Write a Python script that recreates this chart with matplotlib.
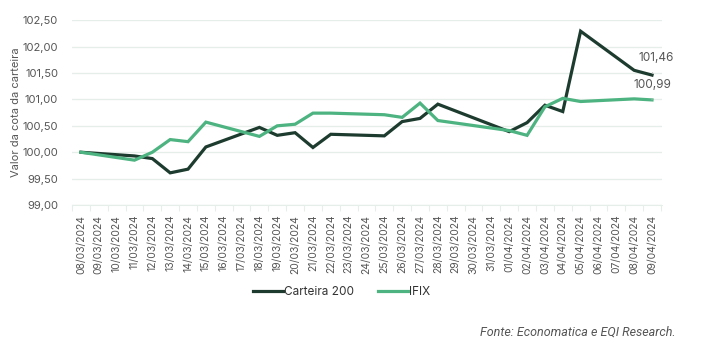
import matplotlib
matplotlib.use("Agg")
import matplotlib.pyplot as plt
import numpy as np

plt.rcParams['font.family'] = ['Inter', 'DejaVu Sans']

dates = ["08/03/2024", "09/03/2024", "10/03/2024", "11/03/2024", "12/03/2024", "13/03/2024",
         "14/03/2024", "15/03/2024", "16/03/2024", "17/03/2024", "18/03/2024", "19/03/2024",
         "20/03/2024", "21/03/2024", "22/03/2024", "23/03/2024", "24/03/2024", "25/03/2024",
         "26/03/2024", "27/03/2024", "28/03/2024", "29/03/2024", "30/03/2024", "31/03/2024",
         "01/04/2024", "02/04/2024", "03/04/2024", "04/04/2024", "05/04/2024", "06/04/2024",
         "07/04/2024", "08/04/2024", "09/04/2024"]

trade_days = ["08/03/2024", "11/03/2024", "12/03/2024", "13/03/2024", "14/03/2024", "15/03/2024",
              "18/03/2024", "19/03/2024", "20/03/2024", "21/03/2024", "22/03/2024", "25/03/2024",
              "26/03/2024", "27/03/2024", "28/03/2024", "01/04/2024", "02/04/2024", "03/04/2024",
              "04/04/2024", "05/04/2024", "08/04/2024", "09/04/2024"]

carteira_200 = [100.00, 99.93, 99.88, 99.61, 99.68, 100.10, 100.47, 100.32, 100.37, 100.09,
                100.34, 100.31, 100.58, 100.64, 100.91, 100.39, 100.56, 100.89, 100.77, 102.29,
                101.55, 101.46]
ifix = [100.00, 99.85, 100.00, 100.24, 100.20, 100.57, 100.30, 100.50, 100.53, 100.74,
        100.74, 100.71, 100.66, 100.93, 100.60, 100.41, 100.32, 100.86, 101.02, 100.96,
        101.01, 100.99]

yticks = [99.0, 99.5, 100.0, 100.5, 101.0, 101.5, 102.0, 102.5]

dark = "#1d3b2f"
light = "#4db380"
grey = "#555555"

fig = plt.figure(figsize=(7.21, 3.53), dpi=100)
ax = fig.add_axes([0.0999, 0.419, 0.818, 0.524])

xpos = [dates.index(d) for d in trade_days]
ax.plot(xpos, carteira_200, color=dark, lw=2.3, label="Carteira 200", solid_joinstyle="miter")
ax.plot(xpos, ifix, color=light, lw=2.3, label="IFIX", solid_joinstyle="miter")

ax.set_xlim(-0.45, len(dates) - 0.45)
ax.set_ylim(99.0, 102.5)
ax.set_yticks(yticks)
ax.set_yticklabels([f"{v:.2f}".replace(".", ",") for v in yticks], fontsize=8, color=grey)
ax.set_xticks(range(len(dates)))
ax.set_xticklabels(dates, rotation=90, fontsize=7.5, color=grey)
ax.set_xticks(np.arange(-0.5, len(dates)), minor=True)
ax.tick_params(axis="x", which="major", length=0, pad=7)
ax.tick_params(axis="x", which="minor", length=4, color="#e6eeea", width=0.8)
ax.tick_params(axis="y", length=0, pad=10)
ax.grid(axis="y", color="#e6eeea", lw=1)
for s in ["top", "right", "left"]:
    ax.spines[s].set_visible(False)
ax.spines["bottom"].set_color("#e6eeea")
ax.set_axisbelow(True)
ax.set_ylabel("Valor da cota da carteira", fontsize=8, color=grey, labelpad=1)

# end labels
xl = xpos[-1]
ax.annotate(f"{carteira_200[-1]:.2f}".replace(".", ","), xy=(xl, carteira_200[-1]),
            xytext=(xl + 0.25, carteira_200[-1] + 0.32), fontsize=8.5, color=grey, ha="center",
            va="center", arrowprops=dict(arrowstyle="-", color="#bbbbbb", lw=0.6, shrinkA=4, shrinkB=1))
ax.annotate(f"{ifix[-1]:.2f}".replace(".", ","), xy=(xl, ifix[-1]),
            xytext=(xl + 0.05, ifix[-1] + 0.29), fontsize=8.5, color=grey, ha="center",
            va="center", arrowprops=dict(arrowstyle="-", color="#bbbbbb", lw=0.6, shrinkA=4, shrinkB=1))

leg = fig.legend(loc="center", bbox_to_anchor=(0.474, 0.172), ncol=2, frameon=False,
                 fontsize=8.5, handlelength=2.5, handletextpad=0.15, columnspacing=2.0)
for t in leg.get_texts():
    t.set_color("#333333")

fig.text(0.937, 0.06, "Fonte: Economatica e EQI Research.", fontsize=9, style="italic",
         color=grey, ha="right", va="center", family=["Roboto"])

fig.savefig("out.png", dpi=100)
